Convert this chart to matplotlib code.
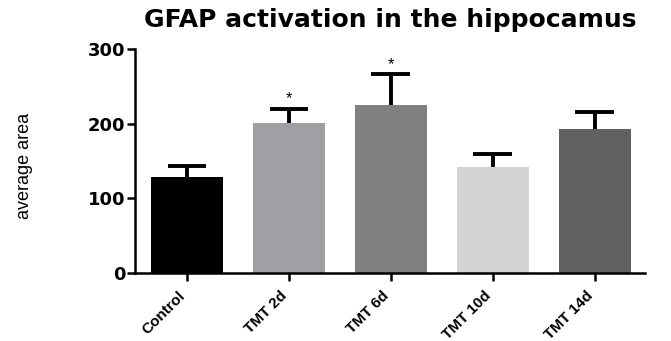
import matplotlib
matplotlib.use('Agg')
import matplotlib.pyplot as plt
import numpy as np

groups = ['Control', 'TMT 2d', 'TMT 6d', 'TMT 10d', 'TMT 14d']
means = [128, 201, 225, 142, 193]
sem = [16, 19, 41, 17, 23]
signif = ['', '*', '*', '', '']
colors = ['#000000', '#a0a0a4', '#808080', '#d4d4d4', '#616161']

fig = plt.figure(figsize=(6.71, 3.41), dpi=100)
ax = fig.add_axes([0.201, 0.1994, 0.760, 0.6566])

x = np.arange(len(groups))
ax.bar(x, means, width=0.706, color=colors, zorder=2)

# upper error bars only (stem + cap)
tops = np.array(means) + np.array(sem)
ax.vlines(x, means, tops, color='black', lw=2.8, zorder=3)
ax.hlines(tops, x - 0.19, x + 0.19, color='black', lw=2.8, zorder=3)

for xi, t, s in zip(x, tops, signif):
    if s:
        ax.text(xi, t + 3, s, ha='center', va='bottom', fontsize=12,
                family='Liberation Sans')

ax.set_xlim(-0.51, 4.49)
ax.set_ylim(0, 300)
ax.set_yticks([0, 100, 200, 300])
ax.set_xticks(x)
ax.set_xticklabels([])
# rotated group names, set a bit left of each tick
for xi, g in zip(x, groups):
    ax.text(xi - 0.09, -0.07, g, transform=ax.get_xaxis_transform(),
            rotation=45, ha='right', va='top', rotation_mode='anchor',
            family='Liberation Sans', fontweight='bold', fontsize=11)
for lab in ax.get_yticklabels():
    lab.set_family('DejaVu Sans')
    lab.set_fontweight('bold')
    lab.set_fontsize(13)

for side in ['top', 'right']:
    ax.spines[side].set_visible(False)
for side in ['left', 'bottom']:
    ax.spines[side].set_linewidth(1.8)
ax.tick_params(axis='y', length=6, width=1.8, pad=1)
ax.tick_params(axis='x', length=6, width=1.8, pad=3)

ax.set_ylabel('average area', family='Liberation Sans', fontsize=13)
ax.yaxis.set_label_coords(-0.2, 0.48)
ax.set_title('GFAP activation in the hippocamus', family='DejaVu Sans',
             fontweight='bold', fontsize=18, pad=16)

fig.savefig('out.png', dpi=100)
